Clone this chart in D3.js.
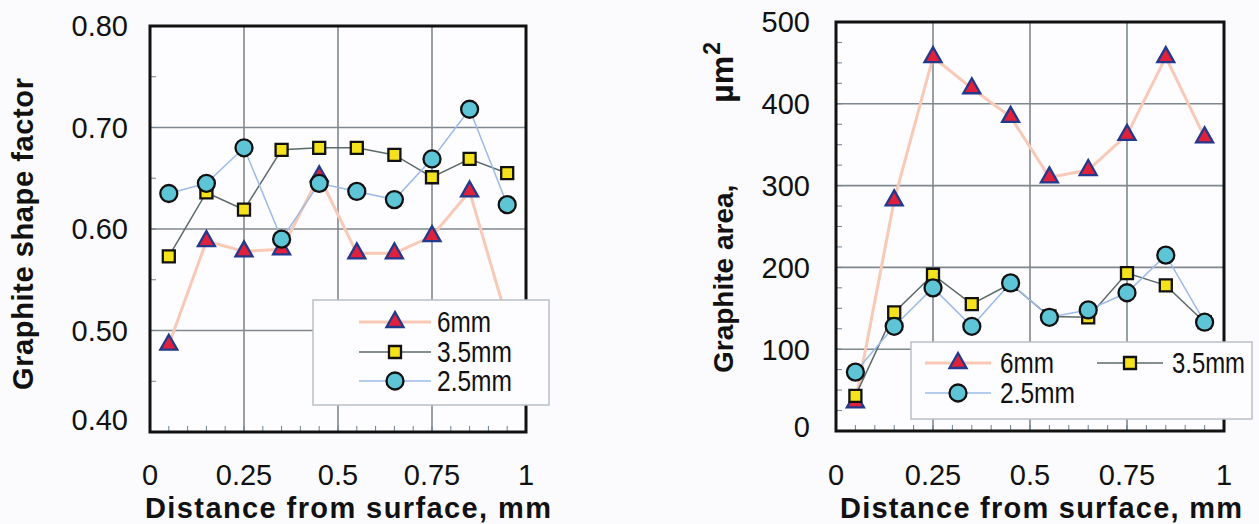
<!DOCTYPE html>
<html>
<head>
<meta charset="utf-8">
<script src="https://cdn.jsdelivr.net/npm/d3@7/dist/d3.min.js"></script>
<style>
  html, body { margin: 0; padding: 0; background: #fbfbfd; }
  svg { display: block; }
  text { font-family: Arial, "Liberation Sans", sans-serif; fill: #111; }
</style>
</head>
<body>
<svg id="chart" width="1259" height="524"></svg>
<script>
// Sampling depth below the casting surface (mm)
const distance = [0.05, 0.15, 0.25, 0.35, 0.45, 0.55, 0.65, 0.75, 0.85, 0.95];

// Graphite shape factor per wall thickness
const shape6mm  = [0.486, 0.588, 0.578, 0.580, 0.652, 0.576, 0.576, 0.593, 0.637, 0.510];
const shape35mm = [0.573, 0.636, 0.619, 0.678, 0.680, 0.680, 0.673, 0.651, 0.669, 0.655];
const shape25mm = [0.635, 0.645, 0.680, 0.590, 0.645, 0.637, 0.629, 0.669, 0.718, 0.624];

// Graphite area (µm²) per wall thickness
const area6mm  = [35, 282, 457, 419, 384, 310, 319, 362, 457, 359];
const area35mm = [43, 145, 191, 155, 180, 140, 139, 193, 178, 133];
const area25mm = [72, 128, 175, 128, 181, 139, 148, 169, 215, 133];

const seriesNames = ["6mm", "3.5mm", "2.5mm"];
const xTicks = [0, 0.25, 0.5, 0.75, 1];
const xTickLabels = ["0", "0.25", "0.5", "0.75", "1"];
const shapeTicks = [0.4, 0.5, 0.6, 0.7, 0.8];
const shapeTickLabels = ["0.40", "0.50", "0.60", "0.70", "0.80"];
const areaTicks = [0, 100, 200, 300, 400, 500];
const areaTickLabels = ["0", "100", "200", "300", "400", "500"];

const svg = d3.select("#chart");

const styles = [
  { line: "#f8c9b6", lineWidth: 3,   marker: "triangle", fill: "#e0213c", stroke: "#233a8c" },
  { line: "#5d6a6a", lineWidth: 1.5, marker: "square",   fill: "#f6e21c", stroke: "#111" },
  { line: "#9dbbe8", lineWidth: 1.5, marker: "circle",   fill: "#5ec5d6", stroke: "#111" }
];

function markerPath(kind) {
  if (kind === "triangle") {
    const w = 17, h = 15;
    return `M0,${-2 * h / 3}L${w / 2},${h / 3}L${-w / 2},${h / 3}Z`;
  }
  if (kind === "square") {
    const s = 12;
    return `M${-s / 2},${-s / 2}h${s}v${s}h${-s}Z`;
  }
  const r = 8.5;
  return `M${r},0A${r},${r} 0 1,1 ${-r},0A${r},${r} 0 1,1 ${r},0Z`;
}

function drawMarker(g, kind, st, x, y) {
  g.append("path")
    .attr("d", markerPath(kind))
    .attr("transform", `translate(${x},${y})`)
    .attr("fill", st.fill)
    .attr("stroke", st.stroke)
    .attr("stroke-width", 2.3)
    .attr("stroke-linejoin", "miter");
}

function drawPanel(cfg) {
  const g = svg.append("g");
  const x = d3.scaleLinear().domain([0, 1]).range(cfg.xRange);
  const y = d3.scaleLinear().domain(cfg.yDomain).range(cfg.yRange);
  const [x0, x1] = cfg.xRange;
  const [yb, yt] = cfg.yRange;

  g.append("rect")
    .attr("x", x0).attr("y", yt).attr("width", x1 - x0).attr("height", yb - yt)
    .attr("fill", "#fdfdff");

  // grid lines
  const grid = g.append("g").attr("stroke", "#7f878f").attr("stroke-width", 1.6);
  xTicks.filter(t => t > 0 && t < 1).forEach(t => {
    grid.append("line").attr("x1", x(t)).attr("x2", x(t)).attr("y1", yt).attr("y2", yb);
  });
  cfg.yTicks.slice(1, -1).forEach(t => {
    grid.append("line").attr("x1", x0).attr("x2", x1).attr("y1", y(t)).attr("y2", y(t));
  });

  // minor ticks along the left and bottom edges
  const minor = g.append("g").attr("stroke", "#6f8196").attr("stroke-width", 1);
  d3.range(0.05, 1, 0.05).forEach(t => {
    minor.append("line").attr("x1", x(t)).attr("x2", x(t)).attr("y1", yb).attr("y2", yb - 6);
  });
  const [d0, d1] = cfg.yDomain;
  const n = Math.round((d1 - d0) / cfg.yMinor);
  for (let i = 1; i < n; i++) {
    const v = d0 + i * cfg.yMinor;
    minor.append("line").attr("x1", x0).attr("x2", x0 + 6).attr("y1", y(v)).attr("y2", y(v));
  }

  // series lines
  const line = d3.line().x((d, i) => x(distance[i])).y(d => y(d));
  cfg.series.forEach((vals, s) => {
    g.append("path")
      .datum(vals)
      .attr("d", line)
      .attr("fill", "none")
      .attr("stroke", styles[s].line)
      .attr("stroke-width", styles[s].lineWidth);
  });

  // frame
  g.append("rect")
    .attr("x", x0).attr("y", yt).attr("width", x1 - x0).attr("height", yb - yt)
    .attr("fill", "none").attr("stroke", "#111").attr("stroke-width", 3);

  // markers
  cfg.series.forEach((vals, s) => {
    vals.forEach((v, i) => drawMarker(g, styles[s].marker, styles[s], x(distance[i]), y(v)));
  });

  // y tick labels
  cfg.yTicks.forEach((t, i) => {
    let py = y(t);
    if (i === 0) py -= cfg.bottomLabelLift;
    g.append("text")
      .attr("x", cfg.yLabelX).attr("y", py)
      .attr("dy", "0.36em")
      .attr("text-anchor", "end")
      .attr("font-size", 29)
      .text(cfg.yTickLabels[i]);
  });

  // x tick labels
  xTicks.forEach((t, i) => {
    g.append("text")
      .attr("x", x(t)).attr("y", cfg.xLabelY)
      .attr("text-anchor", "middle")
      .attr("font-size", 29)
      .text(xTickLabels[i]);
  });

  // x title
  g.append("text")
    .attr("x", cfg.xTitleX).attr("y", 518)
    .attr("text-anchor", "middle")
    .attr("font-size", 29).attr("font-weight", "bold")
    .attr("textLength", cfg.xTitleLen).attr("lengthAdjust", "spacing")
    .text("Distance from surface, mm");

  // y title
  const yt2 = g.append("text")
    .attr("transform", `translate(${cfg.yTitleX},${cfg.yTitleY}) rotate(-90)`)
    .attr("font-size", 29).attr("font-weight", "bold");
  cfg.yTitle(yt2);

  // legend
  const L = cfg.legend;
  const lg = g.append("g");
  lg.append("rect")
    .attr("x", L.box[0]).attr("y", L.box[1]).attr("width", L.box[2]).attr("height", L.box[3])
    .attr("fill", "#fdfdff").attr("stroke", "#b9c0c8").attr("stroke-width", 1.5);
  L.items.forEach((it, s) => {
    const st = styles[s];
    lg.append("line")
      .attr("x1", it.mx - L.half).attr("x2", it.mx + L.half)
      .attr("y1", it.y).attr("y2", it.y)
      .attr("stroke", st.line).attr("stroke-width", st.lineWidth);
    drawMarker(lg, st.marker, st, it.mx, it.y);
    lg.append("text")
      .attr("x", it.tx).attr("y", it.y).attr("dy", "0.36em")
      .attr("font-size", 29)
      .attr("textLength", it.len).attr("lengthAdjust", "spacingAndGlyphs")
      .text(seriesNames[s]);
  });
}

drawPanel({
  xRange: [150, 526],
  yDomain: [0.4, 0.8],
  yRange: [432, 26],
  yTicks: shapeTicks,
  yTickLabels: shapeTickLabels,
  yMinor: 0.05,
  yLabelX: 128,
  bottomLabelLift: 12,
  xLabelY: 485,
  xTitleX: 348,
  xTitleLen: 406,
  yTitleX: 33,
  yTitleY: 234,
  yTitle: t => t.attr("text-anchor", "middle")
    .attr("textLength", 312).attr("lengthAdjust", "spacing")
    .text("Graphite shape factor"),
  series: [shape6mm, shape35mm, shape25mm],
  legend: {
    box: [313, 300, 236, 105],
    half: 36,
    items: [
      { mx: 395, tx: 437, y: 322, len: 54 },
      { mx: 395, tx: 437, y: 352, len: 75 },
      { mx: 395, tx: 437, y: 381, len: 75 }
    ]
  }
});

drawPanel({
  xRange: [836, 1224],
  yDomain: [0, 500],
  yRange: [431, 22],
  yTicks: areaTicks,
  yTickLabels: areaTickLabels,
  yMinor: 25,
  yLabelX: 810,
  bottomLabelLift: 4,
  xLabelY: 485,
  xTitleX: 1041,
  xTitleLen: 402,
  yTitleX: 733,
  yTitleY: 373,
  yTitle: t => {
    t.attr("text-anchor", "start").attr("font-size", 28);
    t.append("tspan").text("Graphite area,");
    t.append("tspan").attr("dx", 82).attr("font-size", 32).text("µm");
    t.append("tspan").attr("dx", 1).attr("dy", "-0.55em").attr("font-size", 23).text("2");
  },
  series: [area6mm, area35mm, area25mm],
  legend: {
    box: [911, 342, 341, 77],
    half: 33,
    items: [
      { mx: 958, tx: 1000, y: 363, len: 54 },
      { mx: 1130, tx: 1172, y: 363, len: 73 },
      { mx: 958, tx: 1000, y: 393, len: 75 }
    ]
  }
});
</script>
</body>
</html>
